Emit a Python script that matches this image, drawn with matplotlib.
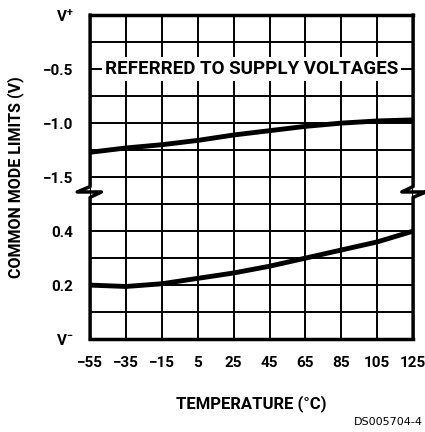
import matplotlib
matplotlib.use('Agg')
import matplotlib.pyplot as plt
from matplotlib.lines import Line2D

# Temperature axis (deg C)
temps = [-55, -35, -15, 5, 25, 45, 65, 85, 105, 125]
# Upper common mode limit, referred to V+ (V)
upper_limit = [-1.27, -1.23, -1.20, -1.16, -1.11, -1.07, -1.03, -1.00, -0.98, -0.97]
# Lower common mode limit, referred to V- (V)
lower_limit = [0.20, 0.195, 0.205, 0.225, 0.245, 0.27, 0.30, 0.33, 0.36, 0.40]

x_ticks = [-55, -35, -15, 5, 25, 45, 65, 85, 105, 125]
y_tick_labels = ['V$^{-}$', '0.2', '0.4', '\u22121.5', '\u22121.0', '\u22120.5', 'V$^{+}$']


# broken axis: lower section 0..0.5 V (rows 0..5), upper section -1.5..0 V (rows 6..12)
def lower_row(v):
    return v / 0.1


def upper_row(v):
    return 12 + v / 0.25


plt.rcParams['font.family'] = ['Roboto', 'DejaVu Sans']
plt.rcParams['font.weight'] = 'bold'
plt.rcParams['mathtext.fontset'] = 'custom'
plt.rcParams['mathtext.rm'] = 'Roboto:bold'
plt.rcParams['mathtext.default'] = 'rm'

fig = plt.figure(figsize=(4.25, 4.32), dpi=100)
ax = fig.add_axes([0.212, 0.215, 0.76, 0.75])

ax.set_xlim(-55, 125)
ax.set_ylim(0, 12)

# grid
for xv in range(-55, 126, 20):
    ax.axvline(xv, color='black', lw=1.4, zorder=1)
for r in range(0, 13):
    ax.axhline(r, color='black', lw=1.4, zorder=1)

ax.plot(temps, [upper_row(v) for v in upper_limit], color='black', lw=3.5, zorder=3, solid_capstyle='butt')
ax.plot(temps, [lower_row(v) for v in lower_limit], color='black', lw=3.5, zorder=3, solid_capstyle='butt')

ax.text(35, 10, 'REFERRED TO SUPPLY VOLTAGES', ha='center', va='center', fontsize=13.5,
        fontweight='bold', zorder=4,
        bbox=dict(facecolor='white', edgecolor='none', pad=2))

# frame with break marks
for s in ['left', 'right']:
    ax.spines[s].set_visible(False)
ax.spines['top'].set_linewidth(2.5)
ax.spines['bottom'].set_linewidth(2.5)
tr = ax.get_yaxis_transform()
left_x = [0, 0, -0.04, 0.035, 0, 0]
right_x = [1, 1, 0.965, 1.04, 1, 1]
brk_y = [12, 5.65, 5.45, 5.45, 5.25, 0]
ax.add_line(Line2D(left_x, brk_y, transform=tr, color='black', lw=2.5, clip_on=False, zorder=5))
ax.add_line(Line2D(right_x, brk_y, transform=tr, color='black', lw=2.5, clip_on=False, zorder=5))

ax.set_xticks(x_ticks)
ax.set_xticklabels([str(t).replace('-', '\u2212') for t in x_ticks])
ax.set_yticks([0, 2, 4, 6, 8, 10, 12])
ax.set_yticklabels(y_tick_labels)
ax.tick_params(axis='x', length=0, labelsize=11, pad=12)
ax.tick_params(axis='y', length=0, labelsize=11, pad=12)
for lab in ax.get_xticklabels() + ax.get_yticklabels():
    lab.set_fontweight('bold')

ax.set_xlabel('TEMPERATURE (\u00b0C)', fontsize=12, fontweight='bold', labelpad=18)
ax.set_ylabel('COMMON MODE LIMITS (V)', fontsize=11.5, fontweight='bold', labelpad=14)

fig.text(0.995, 0.012, 'DS005704-4', ha='right', va='bottom', fontsize=8, fontweight='normal',
         family='DejaVu Sans')

fig.savefig('out.png', dpi=100)
